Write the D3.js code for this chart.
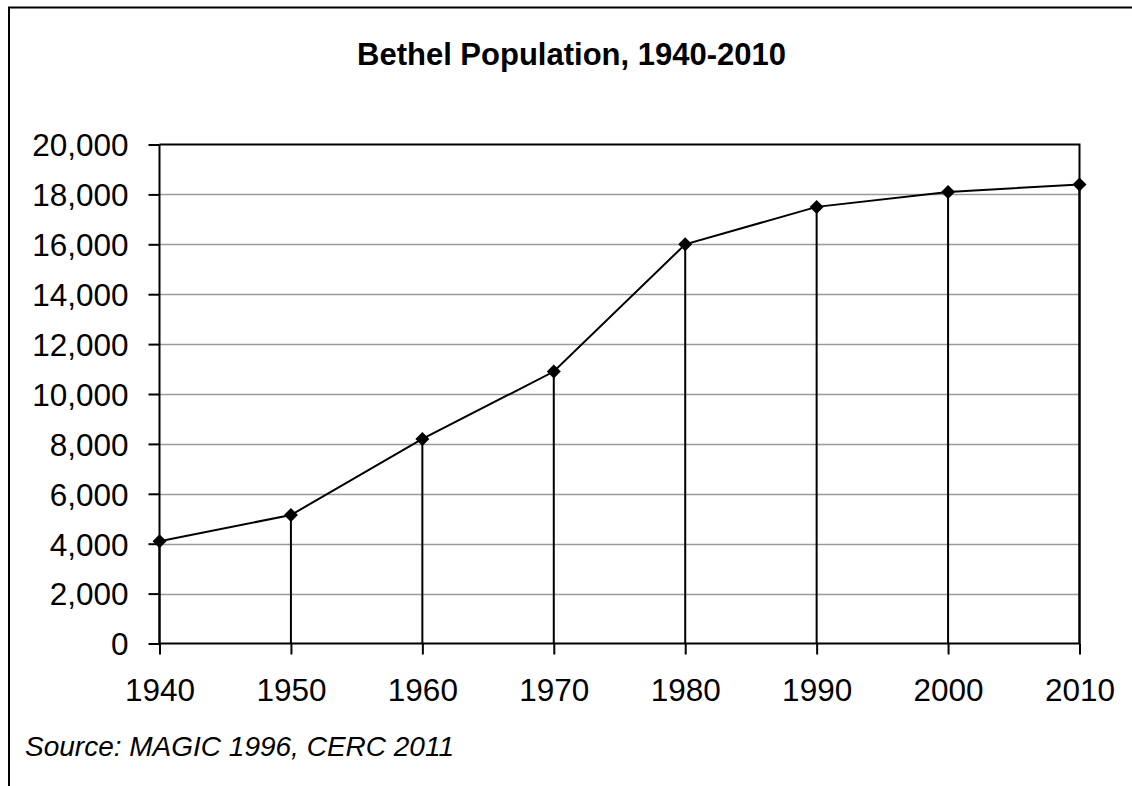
<!DOCTYPE html>
<html>
<head>
<meta charset="utf-8">
<script src="https://cdn.jsdelivr.net/npm/d3@7"></script>
<style>
  html, body { margin: 0; padding: 0; background: #fff; }
  svg { display: block; font-family: "Liberation Sans", Arial, sans-serif; }
</style>
</head>
<body>
<svg id="chart" width="1132" height="786"></svg>
<script>
// Census years and population counts
const years = [1940, 1950, 1960, 1970, 1980, 1990, 2000, 2010];
const population = [4100, 5150, 8200, 10900, 16000, 17500, 18100, 18400];
const yTicks = [0, 2000, 4000, 6000, 8000, 10000, 12000, 14000, 16000, 18000, 20000];
const title = "Bethel Population, 1940-2010";
const source = "Source: MAGIC 1996, CERC 2011";

const data = years.map((y, i) => ({ year: y, value: population[i] }));

const svg = d3.select("#chart");
const W = 1132, H = 786;
const plot = { left: 159.5, right: 1079.5, top: 144.5, bottom: 643.5 };
const labelSize = 31.5;

svg.append("rect").attr("width", W).attr("height", H).attr("fill", "#fff");

// outer frame (runs off the right and bottom edges)
svg.append("path")
  .attr("d", `M9,${H + 5} V7.5 H${W + 5}`)
  .attr("fill", "none").attr("stroke", "#000").attr("stroke-width", 2);

const x = d3.scaleLinear().domain([1940, 2010]).range([plot.left, plot.right]);
const y = d3.scaleLinear().domain([0, 20000]).range([plot.bottom, plot.top]);

// horizontal gridlines
svg.append("g")
  .selectAll("line")
  .data(yTicks.filter(t => t > 0 && t < 20000))
  .join("line")
  .attr("x1", plot.left).attr("x2", plot.right)
  .attr("y1", d => Math.round(y(d)) + 0.5).attr("y2", d => Math.round(y(d)) + 0.5)
  .attr("stroke", "#9a9a9a").attr("stroke-width", 1.5);

// plot area top and right border
svg.append("path")
  .attr("d", `M${plot.left},${y(20000)} H${x(2010)} V${plot.bottom}`)
  .attr("fill", "none").attr("stroke", "#000").attr("stroke-width", 2);

// drop lines from each point to the axis
svg.append("g")
  .selectAll("line")
  .data(data)
  .join("line")
  .attr("x1", d => x(d.year)).attr("x2", d => x(d.year))
  .attr("y1", d => y(d.value)).attr("y2", y(0))
  .attr("stroke", "#000").attr("stroke-width", 2);

// y axis
const yAxis = svg.append("g")
  .attr("transform", `translate(${plot.left},0)`)
  .call(d3.axisLeft(y).tickValues(yTicks).tickFormat(d3.format(",")).tickSize(11).tickPadding(20));
yAxis.select(".domain").attr("stroke", "#000").attr("stroke-width", 2)
  .attr("d", `M0,${plot.top} V${plot.bottom}`);
yAxis.selectAll(".tick line").attr("stroke", "#000").attr("stroke-width", 2);
yAxis.selectAll(".tick text")
  .attr("font-family", "Liberation Sans, Arial, sans-serif")
  .attr("font-size", labelSize).attr("fill", "#000").attr("dy", "0.36em");

// x axis
const xAxis = svg.append("g")
  .attr("transform", `translate(0,${plot.bottom})`)
  .call(d3.axisBottom(x).tickValues(years).tickFormat(d3.format("d")).tickSize(11).tickPadding(24));
xAxis.select(".domain").attr("stroke", "#000").attr("stroke-width", 2)
  .attr("d", `M${plot.left},0 H${plot.right}`);
xAxis.selectAll(".tick line").attr("stroke", "#000").attr("stroke-width", 2);
xAxis.selectAll(".tick text")
  .attr("font-family", "Liberation Sans, Arial, sans-serif")
  .attr("font-size", labelSize).attr("fill", "#000");

// population line
svg.append("path")
  .datum(data)
  .attr("d", d3.line().x(d => x(d.year)).y(d => y(d.value)))
  .attr("fill", "none").attr("stroke", "#000").attr("stroke-width", 2);

// diamond markers
svg.append("g")
  .selectAll("path")
  .data(data)
  .join("path")
  .attr("transform", d => `translate(${x(d.year)},${y(d.value)})`)
  .attr("d", "M0,-7 L7,0 L0,7 L-7,0 Z")
  .attr("fill", "#000");

// title
svg.append("text")
  .attr("x", 571.5).attr("y", 65)
  .attr("text-anchor", "middle")
  .attr("font-size", 31).attr("font-weight", "bold")
  .text(title);

// source note
svg.append("text")
  .attr("x", 25).attr("y", 756)
  .attr("font-size", 28).attr("font-style", "italic")
  .text(source);
</script>
</body>
</html>
